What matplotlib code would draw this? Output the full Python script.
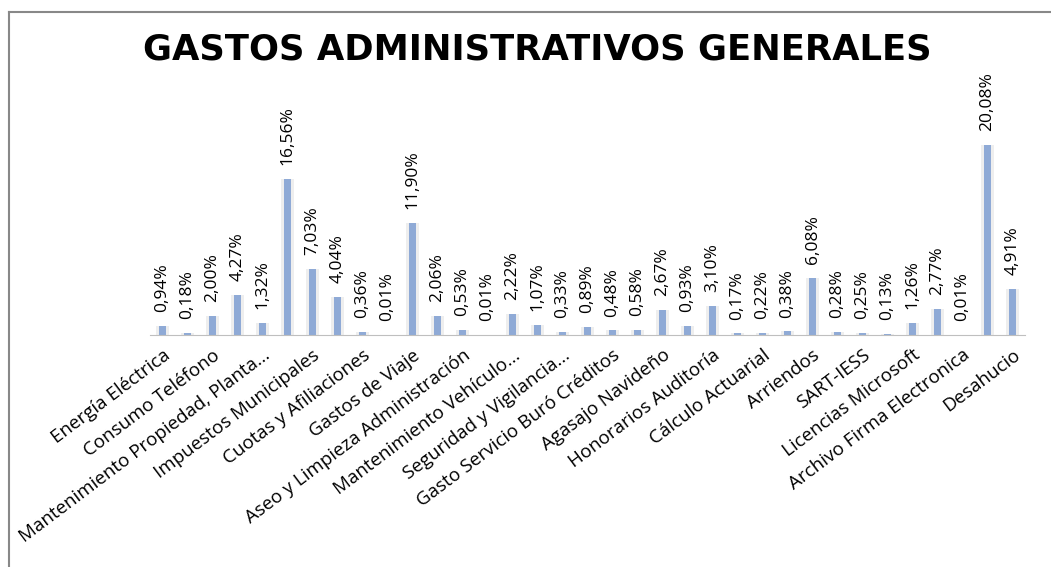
import numpy as np
import matplotlib.pyplot as plt
from matplotlib.lines import Line2D

# Gastos administrativos generales (% del total)
valores = [0.94, 0.18, 2.00, 4.27, 1.32, 16.56, 7.03, 4.04, 0.36, 0.01,
           11.90, 2.06, 0.53, 0.01, 2.22, 1.07, 0.33, 0.89, 0.48, 0.58,
           2.67, 0.93, 3.10, 0.17, 0.22, 0.38, 6.08, 0.28, 0.25, 0.13,
           1.26, 2.77, 0.01, 20.08, 4.91]

# only every second category is labelled on the axis
etiquetas = ["Energía Eléctrica", "Consumo Teléfono",
             "Mantenimiento Propiedad, Planta...", "Impuestos Municipales",
             "Cuotas y Afiliaciones", "Gastos de Viaje",
             "Aseo y Limpieza Administración", "Mantenimiento Vehículo...",
             "Seguridad y Vigilancia...", "Gasto Servicio Buró Créditos",
             "Agasajo Navideño", "Honorarios Auditoría", "Cálculo Actuarial",
             "Arriendos", "SART-IESS", "Licencias Microsoft",
             "Archivo Firma Electronica", "Desahucio"]

x = np.arange(len(valores))

fig = plt.figure(figsize=(10.51, 5.67), dpi=100)
ax = fig.add_axes([150/1051, 1 - 335/567, 875/1051, 255/567])

ax.bar(x, valores, width=0.5, color='#eeeeee', zorder=1)   # soft shadow
ax.bar(x, valores, width=0.3, color='#8faad6', zorder=2)

for xi, v in zip(x, valores):
    ax.annotate(f"{v:.2f}%".replace('.', ','), (xi, v), xytext=(0, 10),
                textcoords='offset points', rotation=90, ha='center',
                va='bottom', fontsize=12.5, family='Open Sans')

ax.set_xlim(-0.5, len(valores) - 0.5)
ax.set_ylim(0, 27)
ax.set_yticks([])
ax.set_xticks(x[::2])
ax.set_xticklabels(etiquetas, rotation=37, ha='right', va='top',
                   rotation_mode='anchor', fontsize=13.5, family='Open Sans')
ax.tick_params(axis='x', length=0, pad=8)
for s in ['top', 'right', 'left']:
    ax.spines[s].set_visible(False)
ax.spines['bottom'].set_color('#bfbfbf')

fig.text(537/1051, 1 - 50/567, "GASTOS ADMINISTRATIVOS GENERALES",
         ha='center', va='center', fontsize=25.5, fontweight='bold',
         family='DejaVu Sans')

# chart frame (top and left edges visible)
fig.add_artist(Line2D([9/1051, 9/1051], [0, 1 - 12/567],
                      transform=fig.transFigure, color='#888888', lw=1.5))
fig.add_artist(Line2D([9/1051, 1], [1 - 12/567, 1 - 12/567],
                      transform=fig.transFigure, color='#888888', lw=1.5))

fig.savefig('out.png', dpi=100)
